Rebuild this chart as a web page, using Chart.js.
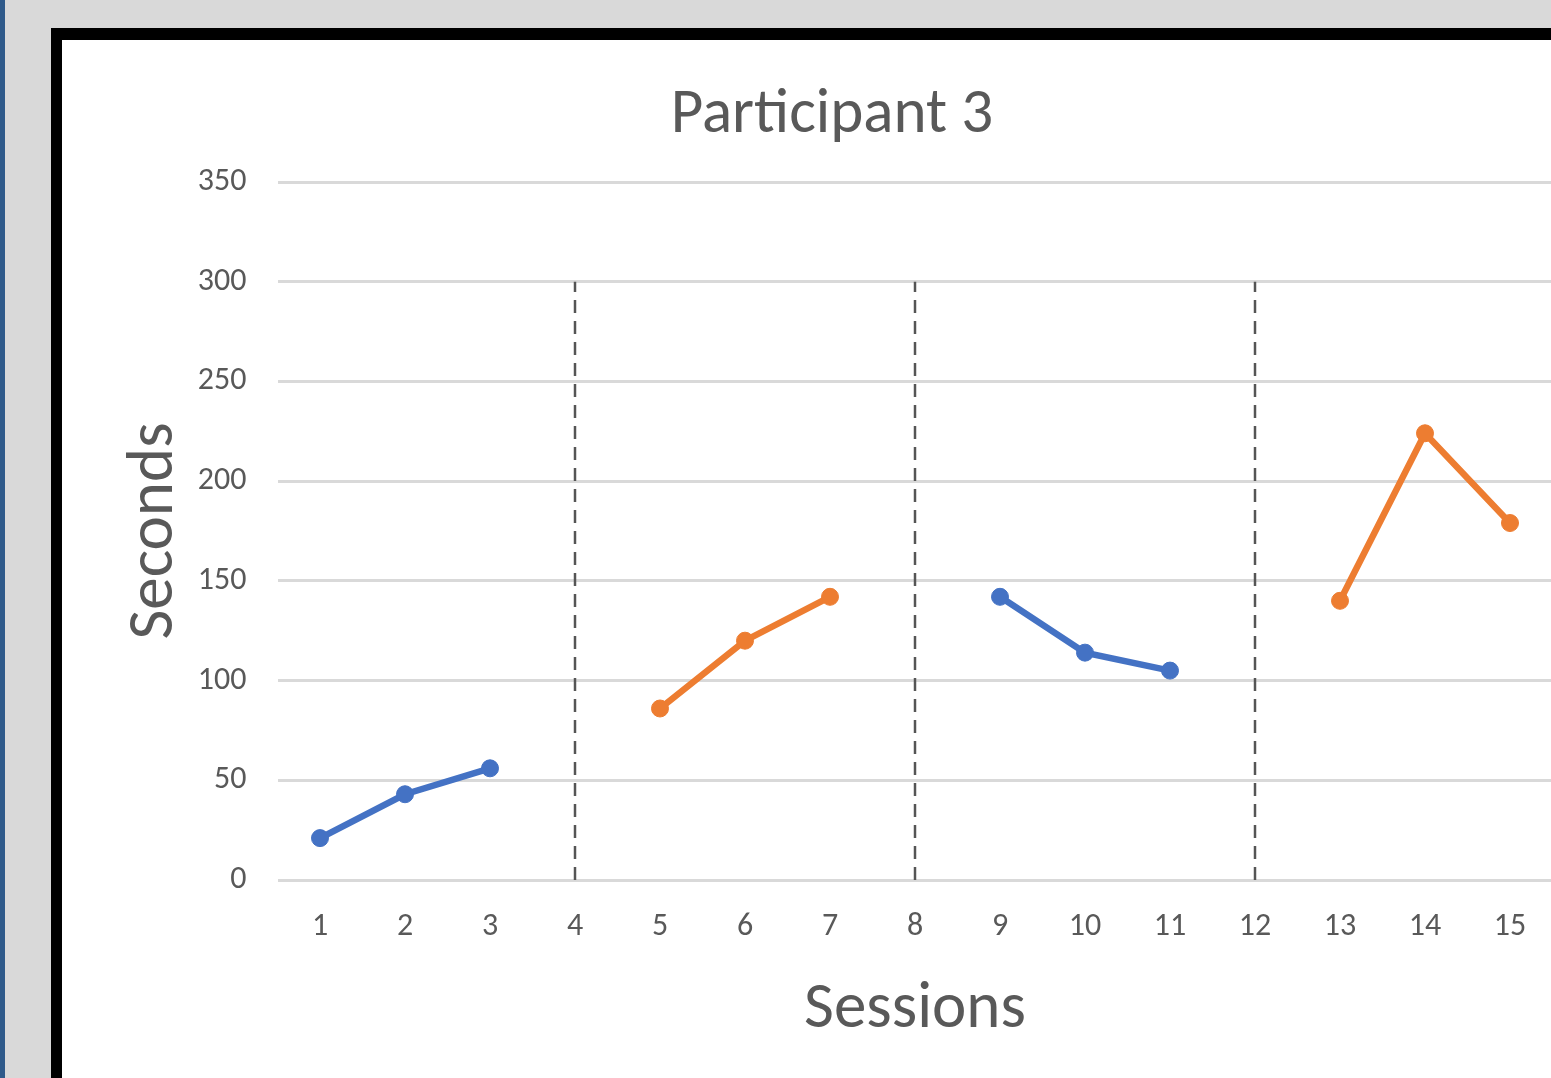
<!DOCTYPE html>
<html>
<head>
<meta charset="utf-8">
<script src="https://cdn.jsdelivr.net/npm/chart.js@4.4.1/dist/chart.umd.min.js"></script>
<style>
  html, body { margin: 0; padding: 0; }
  body { width: 1551px; height: 1078px; overflow: hidden; background: #d9d9d9; position: relative; }
  .strip { position: absolute; left: 0; top: 0; width: 5px; height: 1078px; background: #2f5a8a; }
  .frame { position: absolute; left: 51px; top: 28px; width: 1600px; height: 1200px;
           background: #000; }
  .sheet { position: absolute; left: 62px; top: 40px; width: 1600px; height: 1200px; background: #fff; }
  #chart { position: absolute; left: 62px; top: 40px; }
</style>
</head>
<body>
<div class="strip"></div>
<div class="frame"></div>
<div class="sheet"></div>
<canvas id="chart" width="1540" height="1038"></canvas>
<script>
// Session numbers on the x axis
const sessions = ['1', '2', '3', '4', '5', '6', '7', '8', '9', '10', '11', '12', '13', '14', '15'];
// Baseline phases (blue) and intervention phases (orange), seconds per session
const baseline     = [21, 43, 56, null, null, null, null, null, 142, 114, 105, null, null, null, null];
const intervention = [null, null, null, null, 86, 120, 142, null, null, null, null, null, 140, 224, 179];
// Phase-change markers drawn as dashed verticals
const phaseChanges = ['4', '8', '12'];
const phaseLineTop = 300;
// Y axis range
const yMin = 0, yMax = 350, yStep = 50;

const textColor = '#595959';
const fontFamily = "Carlito, 'Open Sans', sans-serif";

const seriesStyle = (color) => ({
  borderColor: color,
  backgroundColor: color,
  borderWidth: 6.5,
  pointRadius: 8.5,
  pointBorderWidth: 1,
  pointBackgroundColor: color,
  pointBorderColor: color,
  spanGaps: false,
  tension: 0
});

const phaseDatasets = phaseChanges.map(s => ({
  data: [{ x: s, y: yMin }, { x: s, y: phaseLineTop }],
  borderColor: '#555555',
  borderWidth: 2.5,
  borderDash: [13, 8],
  pointRadius: 0,
  tension: 0
}));

new Chart(document.getElementById('chart'), {
  type: 'line',
  data: {
    labels: sessions,
    datasets: [
      { label: 'Baseline', data: baseline, ...seriesStyle('#4472c4') },
      { label: 'Intervention', data: intervention, ...seriesStyle('#ed7d31') },
      ...phaseDatasets
    ]
  },
  options: {
    responsive: false,
    animation: false,
    layout: { padding: 0 },
    plugins: {
      legend: { display: false },
      tooltip: { enabled: false },
      title: {
        display: true,
        text: 'Participant 3',
        color: textColor,
        font: { family: fontFamily, size: 63, weight: 'normal', lineHeight: 1.2 },
        padding: { top: 38, bottom: 28.4 }
      }
    },
    scales: {
      x: {
        type: 'category',
        offset: true,
        grid: { display: false, drawTicks: false },
        border: { display: false },
        ticks: {
          color: textColor,
          font: { family: fontFamily, size: 32 },
          padding: 28,
          maxRotation: 0,
          autoSkip: false
        },
        title: {
          display: true,
          text: 'Sessions',
          color: textColor,
          font: { family: fontFamily, size: 65, lineHeight: 1.2 },
          padding: { top: 10, bottom: 28 }
        },
        afterFit: (scale) => { scale.width = scale.width; scale.height = 198; }
      },
      y: {
        min: yMin,
        max: yMax,
        grid: { color: '#d9d9d9', lineWidth: 3, drawTicks: false },
        border: { display: false },
        ticks: {
          stepSize: yStep,
          color: textColor,
          font: { family: fontFamily, size: 32 },
          padding: 31
        },
        title: {
          display: true,
          text: 'Seconds',
          color: textColor,
          font: { family: fontFamily, size: 65, lineHeight: 1.2 },
          padding: { top: 55, bottom: 5 }
        },
        afterFit: (scale) => { scale.width = 215.5; }
      },
      // empty right-hand margin of the plot (the sheet continues past the window edge)
      yRight: {
        position: 'right',
        display: true,
        grid: { display: false, drawTicks: false },
        border: { display: false },
        ticks: { display: false },
        afterFit: (scale) => { scale.width = 49.5; }
      }
    }
  }
});
</script>
</body>
</html>
